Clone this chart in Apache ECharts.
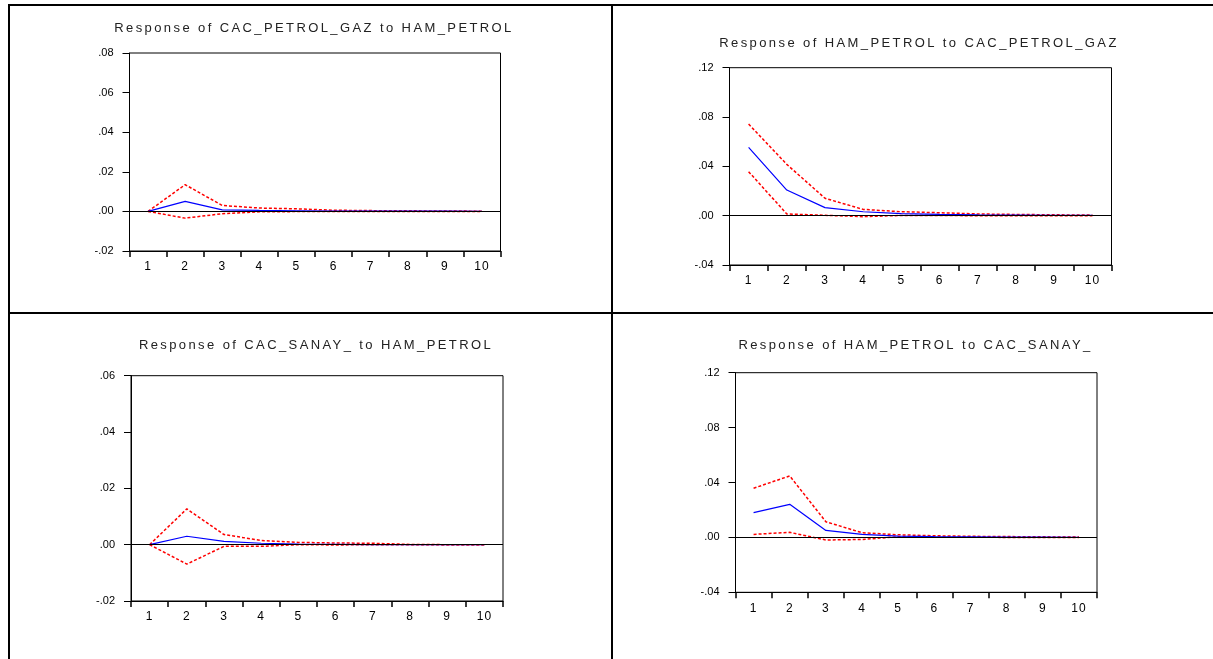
<!DOCTYPE html>
<html>
<head>
<meta charset="utf-8">
<script src="https://cdn.jsdelivr.net/npm/echarts@6/dist/echarts.min.js"></script>
<style>
html,body{margin:0;padding:0;background:#fff;}
#chart{width:1213px;height:659px;}
</style>
</head>
<body>
<div id="chart"></div>
<script>
// ---------- data ----------
const periods = ['1','2','3','4','5','6','7','8','9','10'];

const titles = [
  'Response of CAC_PETROL_GAZ to HAM_PETROL',
  'Response of HAM_PETROL to CAC_PETROL_GAZ',
  'Response of CAC_SANAY_ to HAM_PETROL',
  'Response of HAM_PETROL to CAC_SANAY_'
];

// Panel 1: CAC_PETROL_GAZ to HAM_PETROL
const resp1  = [0, 0.0051, 0.0008, 0.0005, 0.0003, 0.0002, 0.0001, 0.0001, 0.0001, 0];
const upper1 = [0, 0.0135, 0.0030, 0.0017, 0.0013, 0.0006, 0.0004, 0.0003, 0.0002, 0.0001];
const lower1 = [0, -0.0034, -0.0012, -0.0002, -0.0001, 0, 0, 0, 0, 0];

// Panel 2: HAM_PETROL to CAC_PETROL_GAZ
const resp2  = [0.0554, 0.0208, 0.0065, 0.0032, 0.0016, 0.0010, 0.0006, 0.0004, 0.0003, 0.0002];
const upper2 = [0.0743, 0.0416, 0.0141, 0.0051, 0.0032, 0.0024, 0.0014, 0.0010, 0.0007, 0.0005];
const lower2 = [0.0357, 0.0014, 0.0003, -0.0008, 0.0002, 0.0001, 0, 0, 0, 0];

// Panel 3: CAC_SANAY_ to HAM_PETROL
const resp3  = [0, 0.0030, 0.0012, 0.0005, 0.0002, 0.0001, 0, 0, 0, 0];
const upper3 = [0, 0.0127, 0.0036, 0.0015, 0.0008, 0.0006, 0.0005, 0.0001, 0, 0];
const lower3 = [0, -0.0069, -0.0006, -0.0006, 0, -0.0001, 0, 0, 0, 0];

// Panel 4: HAM_PETROL to CAC_SANAY_
const resp4  = [0.0180, 0.0241, 0.0051, 0.0022, 0.0010, 0.0006, 0.0004, 0.0003, 0.0002, 0.0001];
const upper4 = [0.0358, 0.0448, 0.0114, 0.0034, 0.0019, 0.0012, 0.0008, 0.0006, 0.0004, 0.0003];
const lower4 = [0.0022, 0.0037, -0.0019, -0.0015, 0.0005, 0.0002, 0.0001, 0, 0, 0];

// axis tick settings
const yMins  = [-0.02, -0.04, -0.02, -0.04];
const yMaxs  = [0.08, 0.12, 0.06, 0.12];
const ySteps = [0.02, 0.04, 0.02, 0.04];

// ---------- layout ----------
const grids = [
  {left: 129.5, top: 53,    width: 371, height: 198},
  {left: 729.5, top: 67.7,  width: 382, height: 197.3},
  {left: 131,   top: 375.7, width: 372, height: 225.3},
  {left: 735.5, top: 372.7, width: 361.5, height: 219.6}
];
const titlePos = [[314, 28], [919, 43], [316, 345], [915.5, 345]];

// titles in the reference are letter-spaced
(function(){
  const proto = CanvasRenderingContext2D.prototype;
  const orig = proto.fillText;
  proto.fillText = function(t, x, y, w){
    if ('letterSpacing' in this) {
      this.letterSpacing = /13px/.test(this.font) ? '2.4px' : (/12px/.test(this.font) ? '1px' : '0px');
    }
    return w === undefined ? orig.call(this, t, x, y) : orig.call(this, t, x, y, w);
  };
})();

const panels = [
  [resp1, upper1, lower1],
  [resp2, upper2, lower2],
  [resp3, upper3, lower3],
  [resp4, upper4, lower4]
];

const fmt = v => {
  const s = Math.abs(v) < 1e-9 ? '0.00' : v.toFixed(2);
  return s.replace(/^(-?)0\./, '$1.');
};

const option = {
  animation: false,
  backgroundColor: '#fff',
  grid: grids.map(g => Object.assign({
    show: true, borderColor: '#000', borderWidth: 1, backgroundColor: 'transparent'
  }, g)),
  xAxis: grids.map((g, i) => ({
    type: 'category',
    gridIndex: i,
    data: periods,
    boundaryGap: true,
    axisLine: {show: true, onZero: false, lineStyle: {color: '#000', width: 1}},
    axisTick: {show: true, inside: false, length: 6, lineStyle: {color: '#000', width: 1.5}},
    axisLabel: {color: '#000', fontSize: 12, fontFamily: 'Liberation Sans', margin: 10},
    splitLine: {show: false}
  })),
  yAxis: grids.map((g, i) => ({
    type: 'value',
    gridIndex: i,
    min: yMins[i], max: yMaxs[i], interval: ySteps[i],
    axisLine: {show: true, lineStyle: {color: '#000', width: 1}},
    axisTick: {show: true, inside: false, length: 7, lineStyle: {color: '#000', width: 1}},
    axisLabel: {color: '#000', fontSize: 11, fontFamily: 'Liberation Sans', margin: 16, formatter: fmt},
    splitLine: {show: false}
  })),
  series: [],
  graphic: []
};

panels.forEach((p, i) => {
  // zero reference line
  option.series.push({
    type: 'line', xAxisIndex: i, yAxisIndex: i, data: [], z: 1, silent: true,
    markLine: {
      silent: true, symbol: ['none', 'none'], label: {show: false},
      lineStyle: {color: '#000', width: 1, type: 'solid'},
      emphasis: {disabled: true},
      data: [{yAxis: 0}]
    }
  });
  option.series.push({
    type: 'line', xAxisIndex: i, yAxisIndex: i, data: p[1], z: 2,
    symbol: 'none', lineStyle: {color: '#ff0000', width: 1.5, type: [3, 2]}
  });
  option.series.push({
    type: 'line', xAxisIndex: i, yAxisIndex: i, data: p[2], z: 2,
    symbol: 'none', lineStyle: {color: '#ff0000', width: 1.5, type: [3, 2]}
  });
  option.series.push({
    type: 'line', xAxisIndex: i, yAxisIndex: i, data: p[0], z: 3,
    symbol: 'none', lineStyle: {color: '#0000ff', width: 1.2, type: 'solid'}
  });
  option.graphic.push({
    type: 'text', x: titlePos[i][0], y: titlePos[i][1], silent: true,
    style: {
      text: titles[i], align: 'center', verticalAlign: 'middle',
      font: '13px "Liberation Sans"', fill: '#222'
    }
  });
});

// table borders
const borderLine = (x1, y1, x2, y2) => ({
  type: 'line', silent: true, z: 10,
  shape: {x1, y1, x2, y2},
  style: {stroke: '#000', lineWidth: 2}
});
option.graphic.push(borderLine(9, 5, 1213, 5));
option.graphic.push(borderLine(9, 313, 1213, 313));
option.graphic.push(borderLine(9, 4, 9, 659));
option.graphic.push(borderLine(612, 4, 612, 659));

const chart = echarts.init(document.getElementById('chart'), null, {renderer: 'canvas'});
chart.setOption(option);
</script>
</body>
</html>
